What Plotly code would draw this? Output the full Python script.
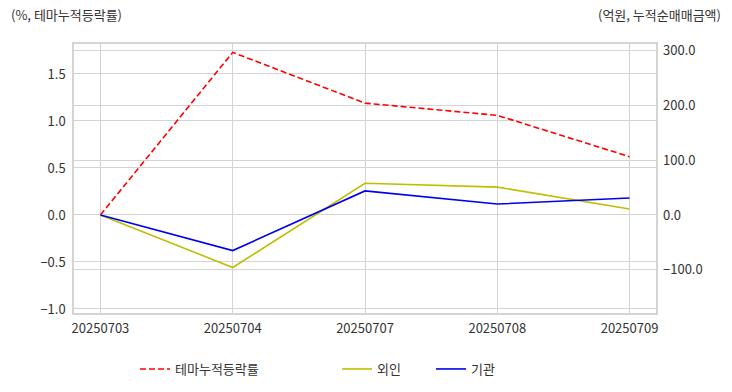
import plotly.graph_objects as go

dates = ["20250703", "20250704", "20250707", "20250708", "20250709"]
theme_rate = [0.0, 1.73, 1.19, 1.06, 0.62]
foreign = [0.0, -96.0, 58.0, 51.0, 11.0]
institution = [0.0, -65.0, 44.0, 20.0, 31.0]

FONT = "Noto Sans CJK KR"
GRID = "#d4d4d4"
TXT = "#333333"

xs = list(range(len(dates)))
fig = go.Figure()
fig.add_trace(go.Scatter(x=xs, y=theme_rate, mode="lines", name="테마누적등락률",
                         line=dict(color="#ff0000", width=1.6, dash="6px,3px"), yaxis="y", legend="legend"))
fig.add_trace(go.Scatter(x=xs, y=foreign, mode="lines", name="외인",
                         line=dict(color="#bfbf00", width=1.6), yaxis="y2", legend="legend2"))
fig.add_trace(go.Scatter(x=xs, y=institution, mode="lines", name="기관",
                         line=dict(color="#0000ee", width=1.6), yaxis="y2", legend="legend3"))

W, H = 732, 392
L, R, T, B = 74, 76, 44, 79
pw = W - L - R
ph = H - T - B

def px(x):
    return (x - L) / pw

def py(y):
    return (H - B - y) / ph

legend_common = dict(orientation="h", yanchor="middle", y=py(369), xanchor="left",
                     bgcolor="rgba(0,0,0,0)", font=dict(family=FONT, size=13, color=TXT))

fig.update_layout(
    width=W, height=H, showlegend=True,
    margin=dict(l=L, r=R, t=T, b=B, autoexpand=False),
    paper_bgcolor="white", plot_bgcolor="white",
    font=dict(family=FONT, size=13, color=TXT),
    xaxis=dict(range=[-0.2, 4.2], tickmode="array", tickvals=xs, ticktext=dates,
               showgrid=True, gridcolor=GRID, gridwidth=1, zeroline=False,
               showline=True, linecolor=GRID, linewidth=1.5, mirror=True, ticks="", ticklabelstandoff=3),
    yaxis=dict(range=[-1.043, 1.819], tickvals=[-1.0, -0.5, 0.0, 0.5, 1.0, 1.5], tickformat=".1f",
               showgrid=True, gridcolor=GRID, gridwidth=1, zeroline=False,
               showline=True, linecolor=GRID, linewidth=1.5, mirror=True, ticks="", ticklabelstandoff=4),
    yaxis2=dict(range=[-179.2, 312.6], tickvals=[-100, 0, 100, 200, 300], tickformat=".1f",
                overlaying="y", side="right",
                showgrid=True, gridcolor=GRID, gridwidth=1, zeroline=False,
                showline=False, ticks="", ticklabelstandoff=6),
    legend=dict(**legend_common, x=px(135)),
    legend2=dict(**legend_common, x=px(337)),
    legend3=dict(**legend_common, x=px(431)),
    annotations=[
        dict(text="(%, 테마누적등락률)", xref="paper", yref="paper", x=px(9), y=py(15),
             xanchor="left", yanchor="middle", showarrow=False, font=dict(family=FONT, size=13, color=TXT)),
        dict(text="(억원, 누적순매매금액)", xref="paper", yref="paper", x=px(723), y=py(15),
             xanchor="right", yanchor="middle", showarrow=False, font=dict(family=FONT, size=13, color=TXT)),
    ],
)

fig.write_html("out.html", config={"displayModeBar": False},
               post_script="document.body.style.margin='0';")
